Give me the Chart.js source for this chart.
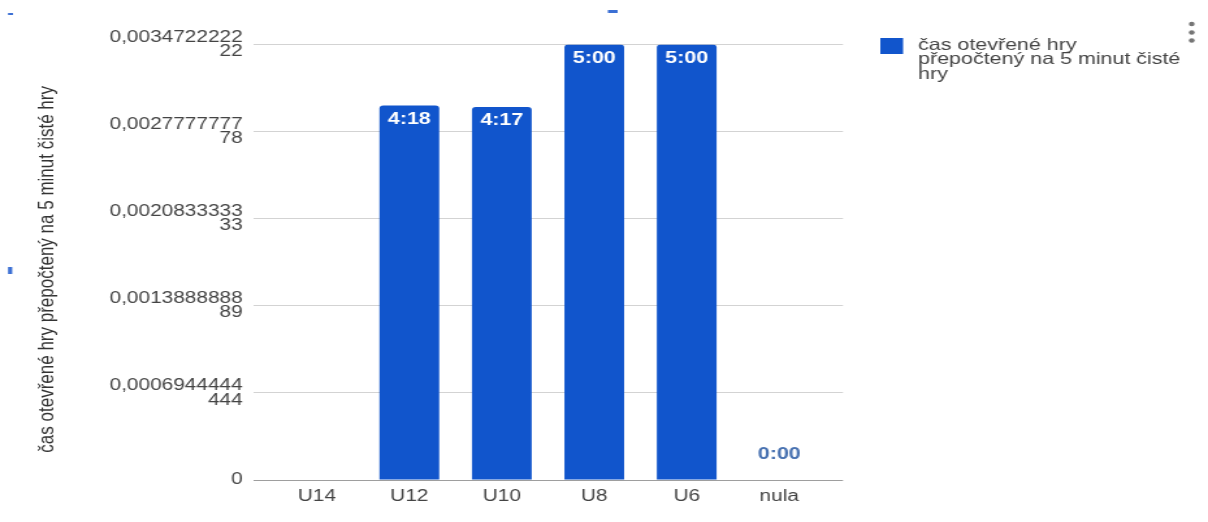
<!DOCTYPE html>
<html><head><meta charset="utf-8">
<script src="https://cdn.jsdelivr.net/npm/chart.js@4/dist/chart.umd.min.js"></script>
<style>
html,body{margin:0;padding:0;background:#fff;overflow:hidden}
#wrap{width:929px;height:522px;transform:scaleX(1.30032);transform-origin:0 0}
</style></head><body>
<div id="wrap"><canvas id="c" width="929" height="522"></canvas></div>
<script>
const categories = ['U14', 'U12', 'U10', 'U8', 'U6', 'nula'];
const seriesName = 'čas otevřené hry přepočtený na 5 minut čisté hry';
const legendLines = ['čas otevřené hry', 'přepočtený na 5 minut čisté', 'hry'];
const values = [null, 0.00298611111, 0.00297453704, 0.00347222222, 0.00347222222, 0];
const valueLabels = ['', '4:18', '4:17', '5:00', '5:00', '0:00'];
const yTickValues = [0, 0.000694444444, 0.00138888889, 0.00208333333, 0.00277777778, 0.00347222222];
const yTickLabels = [['0'], ['0,0006944444', '444'], ['0,0013888888', '89'], ['0,0020833333', '33'], ['0,0027777777', '78'], ['0,0034722222', '22']];

const FONT = "'Liberation Sans', Arial, sans-serif";
const BAR = '#1155cc';

const extras = {
  id: 'extras',
  afterDatasetsDraw(chart) {
    const ctx = chart.ctx;
    const meta = chart.getDatasetMeta(0);
    ctx.save();
    ctx.textAlign = 'center';
    ctx.textBaseline = 'middle';
    ctx.font = 'bold 16.5px ' + FONT;
    meta.data.forEach((bar, i) => {
      const v = values[i];
      if (v === null || v === undefined) return;
      if (v > 0.0003) {
        ctx.fillStyle = '#ffffff';
        ctx.fillText(valueLabels[i], bar.x, bar.y + 14);
      } else {
        ctx.fillStyle = '#4670b0';
        ctx.fillText(valueLabels[i], bar.x, bar.base - 26);
      }
    });
    ctx.restore();
  },
  afterDraw(chart) {
    const ctx = chart.ctx;
    ctx.save();
    // legend
    ctx.fillStyle = BAR;
    ctx.fillRect(677, 38, 17.5, 16);
    ctx.fillStyle = '#444';
    ctx.font = '16.5px ' + FONT;
    ctx.textAlign = 'left';
    ctx.textBaseline = 'alphabetic';
    legendLines.forEach((ln, i) => ctx.fillText(ln, 706, 49.5 + i * 14.5));
    // menu dots
    ctx.fillStyle = '#757575';
    [24, 32.5, 40.5].forEach(y => { ctx.beginPath(); ctx.arc(916.5, y, 2.2, 0, Math.PI * 2); ctx.fill(); });
    // small UI marks
    ctx.fillStyle = '#3b6fd4';
    ctx.fillRect(6.2, 13, 3.8, 2);
    ctx.fillRect(467.5, 10, 7.5, 3);
    ctx.fillRect(6.2, 267, 3.2, 7);
    ctx.restore();
  }
};

new Chart(document.getElementById('c'), {
  type: 'bar',
  data: {
    datasets: [{
      label: seriesName,
      data: categories.map((c, i) => ({ x: i, y: values[i] })),
      backgroundColor: BAR,
      borderRadius: { topLeft: 3, topRight: 3, bottomLeft: 0, bottomRight: 0 },
      borderSkipped: 'start',
      barPercentage: 0.646,
      categoryPercentage: 1
    }]
  },
  options: {
    responsive: false,
    animation: false,
    devicePixelRatio: 1,
    layout: { padding: { top: 44.5, bottom: 0, left: 0, right: 280.7 } },
    plugins: { legend: { display: false }, tooltip: { enabled: false } },
    scales: {
      x: {
        type: 'linear',
        min: -0.69,
        max: 5.69,
        offset: false,
        grid: { display: false, drawTicks: false },
        border: { display: false },
        afterBuildTicks: (s) => { s.ticks = categories.map((c, i) => ({ value: i })); },
        afterFit: (s) => { s.height = 42; },
        ticks: {
          autoSkip: false,
          maxRotation: 0,
          padding: 7,
          color: '#444',
          font: { family: FONT, size: 16 },
          callback: (v) => categories[v]
        }
      },
      y: {
        min: 0,
        max: 0.00347222222,
        grid: {
          drawTicks: false,
          color: (c) => (c.tick && c.tick.value === 0 ? '#9e9e9e' : '#d3d3d3'),
          lineWidth: 1
        },
        border: { display: false },
        afterBuildTicks: (s) => { s.ticks = yTickValues.map(v => ({ value: v })); },
        afterFit: (s) => { s.width = 194.6; },
        ticks: {
          padding: 8,
          color: '#444',
          font: { family: FONT, size: 16, lineHeight: 0.9 },
          callback: (v, i) => yTickLabels[i]
        },
        title: {
          display: true,
          text: seriesName + '   ',
          color: '#333',
          padding: { top: 26, bottom: 0 },
          font: { family: FONT, size: 17 }
        }
      }
    }
  },
  plugins: [extras]
});
</script>
</body></html>
